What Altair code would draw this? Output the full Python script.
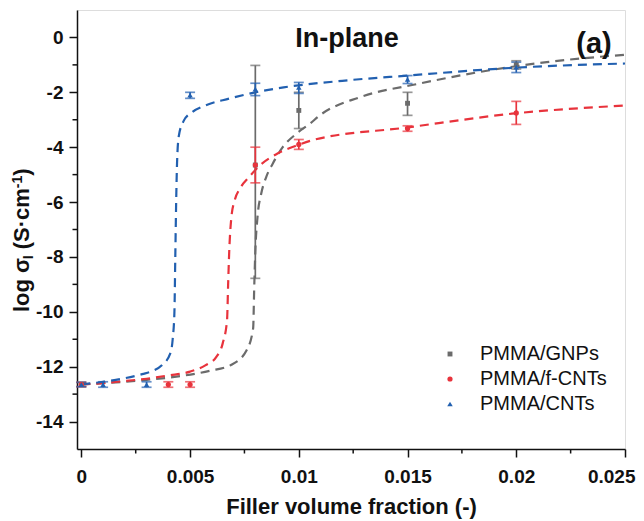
import altair as alt
import pandas as pd

FONT = "Liberation Sans"

# ---------------- data ----------------
series_names = ["PMMA/GNPs", "PMMA/f-CNTs", "PMMA/CNTs"]
series_colors = ["#6b6b6b", "#e8333c", "#2260b0"]
series_shapes = ["square", "circle", "triangle-up"]
series_sizes = [24, 30, 42]

gnp_x = [0.0, 0.008, 0.010, 0.015, 0.020]
gnp_y = [-12.65, -4.65, -2.66, -2.40, -1.00]
gnp_lo = [-12.73, -8.78, -3.32, -2.84, -1.15]
gnp_hi = [-12.57, -1.02, -2.00, -2.00, -0.85]

fcnt_x = [0.0, 0.004, 0.005, 0.008, 0.010, 0.015, 0.020]
fcnt_y = [-12.65, -12.65, -12.65, -4.65, -3.90, -3.32, -2.75]
fcnt_lo = [-12.73, -12.75, -12.75, -5.30, -4.08, -3.42, -3.17]
fcnt_hi = [-12.57, -12.55, -12.55, -4.00, -3.72, -3.22, -2.33]

cnt_x = [0.0, 0.001, 0.003, 0.005, 0.008, 0.010, 0.015, 0.020]
cnt_y = [-12.65, -12.65, -12.65, -2.10, -1.88, -1.82, -1.53, -1.08]
cnt_lo = [-12.73, -12.75, -12.75, -2.22, -2.12, -2.04, -1.68, -1.28]
cnt_hi = [-12.57, -12.55, -12.55, -2.00, -1.67, -1.64, -1.39, -0.90]

# dashed fit curves
gnp_fit_x = [0.0, 0.001, 0.002, 0.003, 0.0042, 0.0059, 0.0069, 0.0076, 0.0079,
             0.00795, 0.008, 0.0081, 0.00827, 0.0085, 0.0088, 0.00926, 0.0099,
             0.0105, 0.011, 0.0128, 0.0155, 0.0183, 0.0214, 0.025]
gnp_fit_y = [-12.65, -12.6, -12.55, -12.48, -12.38, -12.15, -11.93, -11.4, -10.6,
             -9.1, -7.8, -6.55, -5.7, -5.09, -4.6, -4.0, -3.5,
             -3.15, -2.82, -2.18, -1.69, -1.26, -0.9, -0.63]

fcnt_fit_x = [0.0, 0.001, 0.002, 0.003, 0.004, 0.005, 0.0057, 0.0062, 0.0065,
              0.0067, 0.00675, 0.0068, 0.0069, 0.00705, 0.0073, 0.0077, 0.0082,
              0.009, 0.0099, 0.0106, 0.015, 0.0198, 0.025]
fcnt_fit_y = [-12.65, -12.6, -12.52, -12.44, -12.32, -12.18, -11.95, -11.65, -11.15,
              -10.3, -9.0, -7.8, -6.55, -5.94, -5.5, -5.1, -4.67,
              -4.24, -3.94, -3.75, -3.28, -2.78, -2.48]

cnt_fit_x = [0.0, 0.001, 0.002, 0.0028, 0.0033, 0.0037, 0.0041, 0.0042, 0.00428,
             0.00432, 0.00436, 0.0044, 0.00448, 0.0047, 0.0051, 0.0057, 0.0068,
             0.008, 0.0093, 0.012, 0.015, 0.02, 0.025]
cnt_fit_y = [-12.65, -12.55, -12.42, -12.27, -12.15, -11.95, -11.5, -11.0, -10.0,
             -8.0, -6.0, -4.6, -3.6, -3.05, -2.72, -2.48, -2.23,
             -2.0, -1.82, -1.58, -1.39, -1.1, -0.95]

x_major = [0, 0.005, 0.01, 0.015, 0.02, 0.025]
x_minor = [0.0025, 0.0075, 0.0125, 0.0175, 0.0225]
y_major = [0, -2, -4, -6, -8, -10, -12, -14]
y_minor = [-1, -3, -5, -7, -9, -11, -13]

# ---------------- tables ----------------
pts = []
fits = []
for name, xs, ys, los, his in [
    (series_names[0], gnp_x, gnp_y, gnp_lo, gnp_hi),
    (series_names[1], fcnt_x, fcnt_y, fcnt_lo, fcnt_hi),
    (series_names[2], cnt_x, cnt_y, cnt_lo, cnt_hi),
]:
    for a, b, c, d in zip(xs, ys, los, his):
        pts.append({"series": name, "x": a, "y": b, "lo": c, "hi": d})
for name, xs, ys in [
    (series_names[0], gnp_fit_x, gnp_fit_y),
    (series_names[1], fcnt_fit_x, fcnt_fit_y),
    (series_names[2], cnt_fit_x, cnt_fit_y),
]:
    for a, b in zip(xs, ys):
        fits.append({"series": name, "x": a, "y": b})
pts = pd.DataFrame(pts)
fits = pd.DataFrame(fits)

xscale = alt.Scale(domain=[-0.0002, 0.025], nice=False, zero=False)
yscale = alt.Scale(domain=[-15, 1], nice=False, zero=False)

X = alt.X("x:Q", scale=xscale, axis=alt.Axis(
    values=x_major, labelExpr="toString(datum.value)",
    title="Filler volume fraction (-)", grid=False,
    labelFont=FONT, labelFontSize=19, labelFontWeight="bold", labelColor="#111",
    titleFont=FONT, titleFontSize=22, titleFontWeight="bold", titleColor="#111",
    tickSize=8, tickWidth=1.5, tickColor="#111", domainColor="#111", domainWidth=1.5,
    labelPadding=10, titlePadding=10, labelFlush=3, labelFlushOffset=10,
    labelOverlap=False))
Y = alt.Y("y:Q", scale=yscale, axis=alt.Axis(
    values=y_major, labelExpr="toString(datum.value)", title=None, grid=False,
    labelFont=FONT, labelFontSize=19, labelFontWeight="bold", labelColor="#111",
    tickSize=8, tickWidth=1.5, tickColor="#111", domainColor="#111", domainWidth=1.5,
    labelPadding=6, labelFlush=False, labelOverlap=False))

layers = []

# fit curves
for name, col in zip(series_names, series_colors):
    layers.append(
        alt.Chart(fits[fits.series == name]).mark_line(
            color=col, strokeDash=[9, 6], strokeWidth=2.2, interpolate="monotone"
        ).encode(x=X, y=Y)
    )

# error bars
for name, col in zip(series_names, series_colors):
    d = pts[pts.series == name]
    layers.append(alt.Chart(d).mark_rule(color=col, strokeWidth=1.7).encode(
        x="x:Q", y="lo:Q", y2="hi:Q"))
    layers.append(alt.Chart(d).mark_tick(color=col, orient="horizontal", size=10,
                                         thickness=1.7).encode(x="x:Q", y="lo:Q"))
    layers.append(alt.Chart(d).mark_tick(color=col, orient="horizontal", size=10,
                                         thickness=1.7).encode(x="x:Q", y="hi:Q"))

# points with legend
leg = alt.Legend(orient="none", legendX=363, legendY=334, title=None,
                 labelFont=FONT, labelFontSize=20, labelColor="#111",
                 labelOffset=20, rowPadding=5, padding=0, symbolStrokeWidth=0)
layers.append(
    alt.Chart(pts).mark_point(filled=True, opacity=1).encode(
        x="x:Q", y="y:Q",
        color=alt.Color("series:N", scale=alt.Scale(domain=series_names, range=series_colors), legend=leg),
        shape=alt.Shape("series:N", scale=alt.Scale(domain=series_names, range=series_shapes), legend=leg),
        size=alt.Size("series:N", scale=alt.Scale(domain=series_names, range=series_sizes), legend=leg),
    )
)

# minor ticks
layers.append(alt.Chart(pd.DataFrame({"x": x_minor})).mark_rule(color="#111", strokeWidth=1.5).encode(
    x="x:Q", y=alt.value(439), y2=alt.value(443.5)))
layers.append(alt.Chart(pd.DataFrame({"y": y_minor})).mark_rule(color="#111", strokeWidth=1.5).encode(
    y="y:Q", x=alt.value(-4.5), x2=alt.value(0)))

# annotations
def txt(s, x, y, size, weight="bold", angle=0, align="center", baseline="alphabetic"):
    return alt.Chart(pd.DataFrame({"t": [s]})).mark_text(
        font=FONT, fontSize=size, fontWeight=weight, color="#111", angle=angle,
        align=align, baseline=baseline
    ).encode(text="t:N", x=alt.value(x), y=alt.value(y))

layers.append(txt("In-plane", 270, 36.5, 27))
layers.append(txt("(a)", 517, 42.5, 29))

# y title pieces (rotated, reading upward)
layers.append(txt("log σ", -48, 302, 22, angle=270, align="left"))
layers.append(txt("I", -44, 249.3, 14, angle=270, align="left"))
layers.append(txt("(S·cm", -48, 239.3, 22, angle=270, align="left"))
layers.append(txt("-1", -55, 178.2, 14, angle=270, align="left"))
layers.append(txt(")", -48, 165.8, 22, angle=270, align="left"))

chart = alt.layer(*layers).properties(
    width=548, height=439,
    autosize=alt.AutoSizeParams(type="none"),
    padding={"left": 69, "top": 2, "right": 11, "bottom": 70},
).configure_view(stroke="#111", strokeWidth=1.5).configure(background="white")

chart.save("out.html", embed_options={"renderer": "svg", "actions": False})
